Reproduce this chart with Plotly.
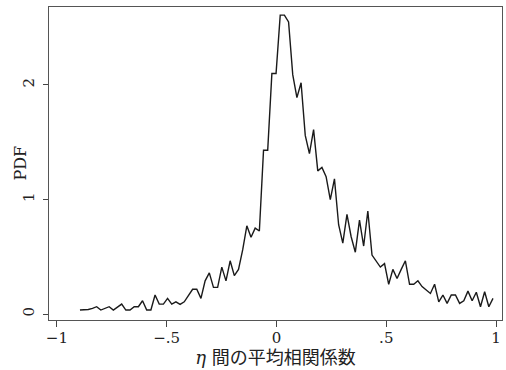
import plotly.graph_objects as go

x_vals = [-0.895, -0.876, -0.857, -0.838, -0.819, -0.800, -0.781, -0.762, -0.743, -0.724,
          -0.705, -0.686, -0.667, -0.648, -0.629, -0.610, -0.591, -0.572, -0.553, -0.534,
          -0.515, -0.496, -0.477, -0.458, -0.439, -0.420, -0.401, -0.382, -0.363, -0.344,
          -0.325, -0.306, -0.287, -0.268, -0.249, -0.230, -0.211, -0.192, -0.173, -0.154,
          -0.135, -0.116, -0.097, -0.078, -0.059, -0.040, -0.021, -0.002, 0.017, 0.036,
          0.055, 0.074, 0.093, 0.112, 0.131, 0.150, 0.169, 0.188, 0.207, 0.226,
          0.245, 0.264, 0.283, 0.302, 0.321, 0.340, 0.359, 0.378, 0.397, 0.416,
          0.435, 0.454, 0.473, 0.492, 0.511, 0.530, 0.549, 0.568, 0.587, 0.606,
          0.625, 0.644, 0.663, 0.682, 0.701, 0.720, 0.739, 0.758, 0.777, 0.796,
          0.815, 0.834, 0.853, 0.872, 0.891, 0.910, 0.929, 0.948, 0.967, 0.986]

pdf_vals = [0.035, 0.035, 0.040, 0.050, 0.064, 0.035, 0.050, 0.064, 0.035, 0.060,
            0.087, 0.035, 0.035, 0.064, 0.064, 0.116, 0.035, 0.035, 0.166, 0.087,
            0.087, 0.137, 0.087, 0.107, 0.085, 0.107, 0.166, 0.216, 0.216, 0.137,
            0.290, 0.360, 0.233, 0.233, 0.410, 0.290, 0.465, 0.335, 0.390, 0.560,
            0.770, 0.670, 0.750, 0.725, 1.430, 1.430, 2.100, 2.100, 2.610, 2.610,
            2.550, 2.090, 1.890, 2.020, 1.560, 1.400, 1.610, 1.250, 1.280, 1.200,
            1.000, 1.180, 0.780, 0.620, 0.870, 0.675, 0.540, 0.820, 0.594, 0.900,
            0.515, 0.465, 0.410, 0.440, 0.260, 0.390, 0.310, 0.390, 0.465, 0.260,
            0.260, 0.290, 0.240, 0.210, 0.180, 0.260, 0.107, 0.166, 0.093, 0.166,
            0.166, 0.093, 0.116, 0.200, 0.116, 0.190, 0.064, 0.195, 0.064, 0.137]

x_tickvals = [-1, -0.5, 0, 0.5, 1]
x_ticktext = ["\u22121", "\u2212.5", "0", ".5", "1"]
y_tickvals = [0, 1, 2]
y_ticktext = ["0", "1", "2"]

serif = "DejaVu Serif, Liberation Serif, Noto Sans CJK JP, serif"
title_font = "DejaVu Serif, Noto Sans CJK JP, serif"

fig = go.Figure()
fig.add_trace(go.Scatter(x=x_vals, y=pdf_vals, mode="lines",
                         line=dict(color="#1a1a1a", width=1.4),
                         showlegend=False, hoverinfo="skip"))

fig.update_layout(
    width=506, height=370,
    margin=dict(l=49, r=4, t=7, b=50, autoexpand=False),
    paper_bgcolor="white", plot_bgcolor="white",
    font=dict(family=serif, color="#222222", size=15),
    xaxis=dict(
        range=[-1.036, 1.027],
        tickvals=x_tickvals, ticktext=x_ticktext,
        ticks="outside", ticklen=6, tickwidth=1, tickcolor="#444444",
        ticklabelstandoff=-2,
        showline=True, linecolor="#555555", linewidth=1, mirror=True,
        showgrid=False, zeroline=False,
        tickfont=dict(family=serif, size=15, color="#222222"),
        title=dict(text="<i>η</i> 間の平均相関係数",
                   font=dict(family=title_font, size=18, color="#222222"),
                   standoff=2),
    ),
    yaxis=dict(
        range=[-0.052, 2.681],
        tickvals=y_tickvals, ticktext=y_ticktext,
        tickangle=-90,
        ticks="outside", ticklen=5, tickwidth=1, tickcolor="#444444",
        ticklabelstandoff=3,
        showline=True, linecolor="#555555", linewidth=1, mirror=True,
        showgrid=False, zeroline=False,
        tickfont=dict(family=serif, size=15, color="#222222"),
    ),
    annotations=[dict(text="PDF", textangle=-90, showarrow=False,
                      xref="paper", yref="paper", x=0, y=0.5,
                      xanchor="center", yanchor="middle", xshift=-29,
                      font=dict(family=serif, size=16, color="#222222"))],
)

fig.write_html("out.html",
               config={"displayModeBar": False},
               post_script="document.body.style.margin='0px';document.body.style.overflow='hidden';")
